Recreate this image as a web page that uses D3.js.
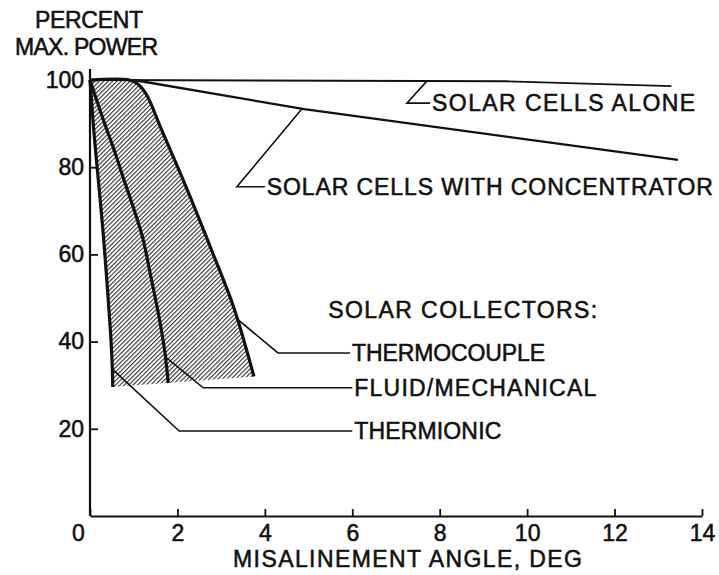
<!DOCTYPE html>
<html>
<head>
<meta charset="utf-8">
<script src="https://cdn.jsdelivr.net/npm/d3@7"></script>
<style>
  html, body { margin: 0; padding: 0; background: #fff; }
  svg text { font-family: "Liberation Sans", Arial, sans-serif; fill: #111; stroke: #111; stroke-width: 0.55px; }
</style>
</head>
<body>
<svg id="chart" width="719" height="575"></svg>
<script>
// Axis ticks
const xTicks = [0, 2, 4, 6, 8, 10, 12, 14];
const yTicks = [20, 40, 60, 80, 100];

// Curves: [misalignment angle (deg), percent of max power]
const cellsAlone = [[0, 100], [9.5, 99.7], [13.3, 98.6]];
const cellsConcentrator = [[1.0, 100], [4.9, 93.3], [13.45, 81.7]];
const thermocouple = [[0, 100], [0.9, 100], [1.1, 99], [1.3, 96.5], [1.6, 89.5], [1.9, 82.5],
                      [2.3, 73], [2.8, 60.5], [3.3, 47.5], [3.75, 32]];
const fluidMechanical = [[0, 100], [0.3, 91], [0.55, 84], [0.78, 77], [1.0, 70.5], [1.2, 64],
                         [1.37, 56], [1.6, 44.5], [1.72, 37], [1.79, 30.5]];
const thermionic = [[0, 100], [0.09, 88], [0.2, 76], [0.3, 65], [0.4, 52], [0.47, 42], [0.51, 34], [0.52, 29.6]];

// Callout leaders (data units) and their captions
const leaderAlone = [[7.71, 99.8], [7.25, 94.7], [7.78, 94.7]];
const leaderConcentrator = [[4.85, 93.4], [3.36, 75.5], [4.0, 75.5]];
const leaderThermocouple = [[3.39, 45], [4.3, 37.4], [5.95, 37.4]];
const leaderFluid = [[1.76, 36.2], [2.59, 29.4], [6.0, 29.4]];
const leaderThermionic = [[0.53, 33.5], [2.04, 19.5], [6.0, 19.5]];
const captions = ["SOLAR CELLS ALONE", "SOLAR CELLS WITH CONCENTRATOR",
                  "THERMOCOUPLE", "FLUID/MECHANICAL", "THERMIONIC"];
const heading = "SOLAR COLLECTORS:";
const yTitle = ["PERCENT", "MAX. POWER"];
const xTitle = "MISALINEMENT ANGLE, DEG";

const svg = d3.select("#chart");
const x = d3.scaleLinear().domain([0, 14]).range([90, 702]);
const y = d3.scaleLinear().domain([0, 100]).range([516, 80]);
const FONT = 23;

// Diagonal hatching for the solar-collector band
const defs = svg.append("defs");
defs.append("pattern")
  .attr("id", "hatch")
  .attr("patternUnits", "userSpaceOnUse")
  .attr("width", 3.1).attr("height", 10)
  .attr("patternTransform", "rotate(45)")
  .append("line")
  .attr("x1", 0.6).attr("y1", 0).attr("x2", 0.6).attr("y2", 10)
  .attr("stroke", "#111").attr("stroke-width", 0.95);

const line = d3.line().x(d => x(d[0])).y(d => y(d[1]));
const smooth = d3.line().x(d => x(d[0])).y(d => y(d[1])).curve(d3.curveCatmullRom.alpha(0.5));

// Band between thermionic (left) and thermocouple (right) curves
svg.append("path")
  .attr("d", smooth(thermionic) + "L" + smooth(thermocouple.slice().reverse()).slice(1) + "Z")
  .attr("fill", "url(#hatch)")
  .attr("stroke", "none");

// Axes
const gx = svg.append("g").attr("transform", `translate(0,${y(0)})`)
  .call(d3.axisBottom(x).tickValues(xTicks).tickSizeInner(-7).tickSizeOuter(0).tickPadding(9)
    .tickFormat(d3.format("d")));
gx.select(".domain").attr("stroke", "#111").attr("stroke-width", 2.2);
gx.selectAll(".tick line").attr("stroke", "#111").attr("stroke-width", 1.8);
gx.selectAll(".tick text").attr("font-size", FONT).attr("fill", "#111")
  .attr("dx", d => d === 0 ? -12 : 0);

const gy = svg.append("g").attr("transform", `translate(${x(0)},0)`)
  .call(d3.axisLeft(y).tickValues(yTicks).tickSizeInner(-8).tickSizeOuter(0).tickPadding(6)
    .tickFormat(d3.format("d")));
gy.select(".domain").remove();
gy.selectAll(".tick line").attr("stroke", "#111").attr("stroke-width", 1.8);
gy.selectAll(".tick text").attr("font-size", FONT).attr("fill", "#111");
svg.append("path")
  .attr("d", line([[0, 0], [0, 102.5]]))
  .attr("stroke", "#111").attr("stroke-width", 2.2).attr("fill", "none");

// Solar cell curves
svg.append("path").attr("d", line(cellsAlone))
  .attr("fill", "none").attr("stroke", "#111").attr("stroke-width", 1.9);
svg.append("path").attr("d", line(cellsConcentrator))
  .attr("fill", "none").attr("stroke", "#111").attr("stroke-width", 2.3);

// Collector curves
[thermionic, fluidMechanical, thermocouple].forEach(c => {
  svg.append("path").attr("d", smooth(c))
    .attr("fill", "none").attr("stroke", "#111").attr("stroke-width", 3.2)
    .attr("stroke-linejoin", "round").attr("stroke-linecap", "butt");
});

// Leaders and captions
const captionWidths = [263, 446, 193, 242, 147];
[leaderAlone, leaderConcentrator, leaderThermocouple, leaderFluid, leaderThermionic].forEach((ld, i) => {
  svg.append("path").attr("d", line(ld))
    .attr("fill", "none").attr("stroke", "#111").attr("stroke-width", 1.6);
  const end = ld[ld.length - 1];
  svg.append("text")
    .attr("x", x(end[0]) + 2).attr("y", y(end[1]) + 8)
    .attr("font-size", FONT)
    .attr("textLength", captionWidths[i]).attr("lengthAdjust", "spacing")
    .text(captions[i]);
});

svg.append("text")
  .attr("x", x(5.45)).attr("y", y(45.5))
  .attr("font-size", FONT).attr("textLength", 269).attr("lengthAdjust", "spacing")
  .text(heading);

// Axis titles
svg.append("text").attr("x", 35).attr("y", 28).attr("font-size", FONT)
  .attr("textLength", 108).attr("lengthAdjust", "spacing").text(yTitle[0]);
svg.append("text").attr("x", 15).attr("y", 55).attr("font-size", FONT)
  .attr("textLength", 143).attr("lengthAdjust", "spacing").text(yTitle[1]);
svg.append("text").attr("x", 233).attr("y", 567).attr("font-size", FONT)
  .attr("textLength", 349).attr("lengthAdjust", "spacing").text(xTitle);
</script>
</body>
</html>
